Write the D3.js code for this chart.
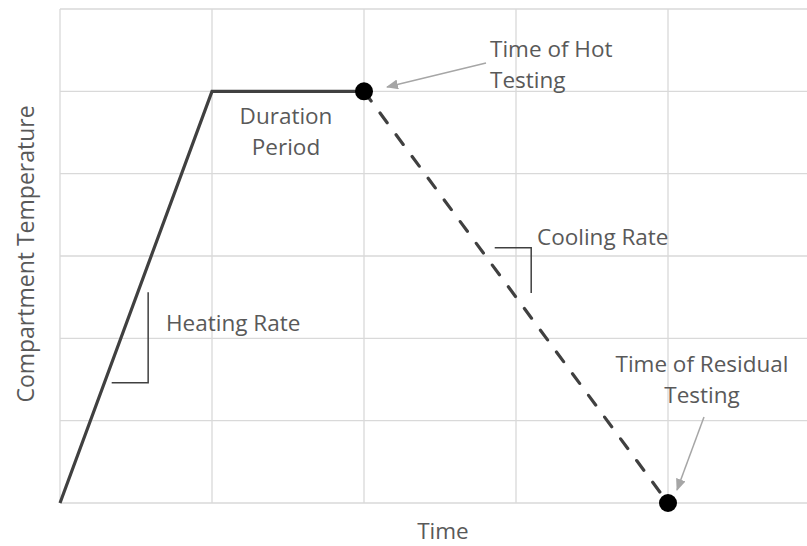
<!DOCTYPE html>
<html lang="en">
<head>
    <meta charset="UTF-8">
    <title>Compartment Temperature vs Time</title>
    <style>
        body { margin: 0; background: #fff; }
        svg { display: block; font-family: "Open Sans", sans-serif; }
        .grid line { stroke: #d9d9d9; stroke-width: 1.3; }
        .lbl { fill: #595959; font-size: 22.5px; }
    </style>
</head>
<body>
    <div id="chart"></div>
    <script src="https://cdnjs.cloudflare.com/ajax/libs/d3/7.8.5/d3.min.js"></script>
    <script>
        // time steps (grid units) and temperature levels
        const xTicks = [0, 1, 2, 3, 4, 5];
        const yTicks = [0, 1, 2, 3, 4, 5, 6];

        // heating + duration (solid)
        const heatTime = [0, 1, 2];
        const heatTemp = [0, 5, 5];

        // cooling (dashed)
        const coolTime = [2, 4];
        const coolTemp = [5, 0];

        // test points
        const testTime = [2, 4];
        const testTemp = [5, 0];

        const width = 807;
        const height = 546;

        const x = d3.scaleLinear().domain([0, 5]).range([60, 820]);
        const y = d3.scaleLinear().domain([0, 6]).range([503, 9]);

        const svg = d3.select("#chart")
            .append("svg")
            .attr("width", width)
            .attr("height", height);

        // gridlines
        const grid = svg.append("g").attr("class", "grid");
        grid.selectAll(".v")
            .data(xTicks)
            .enter()
            .append("line")
            .attr("x1", d => x(d)).attr("x2", d => x(d))
            .attr("y1", y(6)).attr("y2", y(0));
        grid.selectAll(".h")
            .data(yTicks)
            .enter()
            .append("line")
            .attr("x1", x(0)).attr("x2", width)
            .attr("y1", d => y(d)).attr("y2", d => y(d));

        const line = d3.line().x(d => x(d[0])).y(d => y(d[1]));

        svg.append("path")
            .datum(d3.zip(heatTime, heatTemp))
            .attr("d", line)
            .attr("fill", "none")
            .attr("stroke", "#404040")
            .attr("stroke-width", 3.2)
            .attr("stroke-linejoin", "miter");

        svg.append("path")
            .datum(d3.zip(coolTime, coolTemp))
            .attr("d", line)
            .attr("fill", "none")
            .attr("stroke", "#404040")
            .attr("stroke-width", 3.2)
            .attr("stroke-linecap", "round")
            .attr("stroke-dasharray", "12,15");

        svg.selectAll(".pt")
            .data(d3.zip(testTime, testTemp))
            .enter()
            .append("circle")
            .attr("cx", d => x(d[0]))
            .attr("cy", d => y(d[1]))
            .attr("r", 9)
            .attr("fill", "#000");

        // rate brackets
        const bracket = d3.line().x(d => x(d[0])).y(d => y(d[1]));
        svg.append("path")
            .attr("d", bracket([[0.34, 1.46], [0.58, 1.46], [0.58, 2.56]]))
            .attr("fill", "none").attr("stroke", "#404040").attr("stroke-width", 1.5);
        svg.append("path")
            .attr("d", bracket([[2.86, 3.1], [3.1, 3.1], [3.1, 2.55]]))
            .attr("fill", "none").attr("stroke", "#404040").attr("stroke-width", 1.5);

        // arrows
        svg.append("defs").append("marker")
            .attr("id", "arrow")
            .attr("viewBox", "0 0 12 10")
            .attr("refX", 11).attr("refY", 5)
            .attr("markerWidth", 12).attr("markerHeight", 10)
            .attr("markerUnits", "userSpaceOnUse")
            .attr("orient", "auto")
            .append("path")
            .attr("d", "M0,0L12,5L0,10Z")
            .attr("fill", "#a6a6a6");

        svg.append("line")
            .attr("x1", 486).attr("y1", 63).attr("x2", 387).attr("y2", 87)
            .attr("stroke", "#a6a6a6").attr("stroke-width", 1.5)
            .attr("marker-end", "url(#arrow)");
        svg.append("line")
            .attr("x1", 704).attr("y1", 417).attr("x2", 677).attr("y2", 490)
            .attr("stroke", "#a6a6a6").attr("stroke-width", 1.5)
            .attr("marker-end", "url(#arrow)");

        // labels
        function label(lines, px, py, anchor) {
            const t = svg.append("text")
                .attr("class", "lbl")
                .attr("text-anchor", anchor);
            lines.forEach((s, i) => {
                t.append("tspan").attr("x", px).attr("y", py + i * 31).text(s);
            });
        }
        label(["Duration", "Period"], 286, 124, "middle");
        label(["Time of Hot", "Testing"], 490, 57, "start");
        label(["Cooling Rate"], 537, 245, "start");
        label(["Heating Rate"], 166, 331, "start");
        label(["Time of Residual", "Testing"], 702, 372, "middle");

        svg.append("text")
            .attr("class", "lbl")
            .attr("x", 443).attr("y", 539)
            .attr("text-anchor", "middle")
            .text("Time");

        svg.append("text")
            .attr("class", "lbl")
            .style("font-size", "23px")
            .attr("transform", "translate(34,254) rotate(-90)")
            .attr("text-anchor", "middle")
            .text("Compartment Temperature");
    </script>
</body>
</html>
